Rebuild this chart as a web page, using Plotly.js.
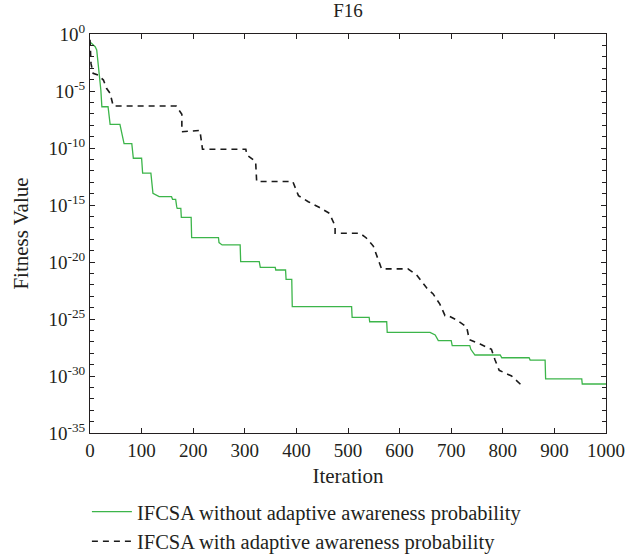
<!DOCTYPE html>
<html>
<head>
<meta charset="utf-8">
<script src="https://cdn.plot.ly/plotly-3.0.1.min.js"></script>
<style>html,body{margin:0;padding:0;background:#fff;}#chart{width:626px;height:557px;}</style>
</head>
<body>
<div id="chart"></div>
<script>
// Iterations and log10 fitness values
const greenIter = [0, 10, 13, 16, 19, 21, 23, 35, 39, 58, 61, 66, 81, 84, 100, 102, 118, 122, 134, 158, 160, 166, 168, 169, 176, 177, 196, 197, 249, 250, 256, 291, 292, 328, 330, 359, 360, 379, 380, 391, 392, 507, 508, 541, 542, 575, 576, 659, 669, 675, 700, 701, 702, 736, 738, 746, 795, 798, 851, 853, 882, 883, 953, 954, 1000];
const greenLog  = [-0.7, -1.11, -1.40, -2.57, -3.75, -4.91, -6.38, -6.38, -7.92, -7.92, -8.57, -9.62, -9.62, -10.9, -10.9, -12.2, -12.2, -13.97, -14.27, -14.27, -14.5, -14.5, -15.15, -15.3, -15.3, -16.08, -16.08, -17.87, -17.87, -18.3, -18.5, -18.5, -19.97, -19.97, -20.47, -20.47, -20.7, -20.7, -21.52, -21.52, -23.92, -23.92, -24.85, -24.85, -25.24, -25.24, -26.18, -26.18, -26.4, -26.9, -26.9, -27.2, -27.34, -27.34, -27.66, -28.16, -28.16, -28.4, -28.4, -28.6, -28.6, -30.26, -30.26, -30.7, -30.7];

const blackIter = [0, 2, 6, 16, 26, 32, 39, 42, 45, 167, 178, 178, 213, 218, 302, 304, 321, 323, 393, 404, 423, 444, 464, 475, 475, 523, 535, 549, 565, 616, 633, 653, 665, 678, 688, 694, 711, 730, 735, 756, 778, 785, 793, 817, 836];
const blackLog  = [-0.5, -2.6, -3.45, -3.6, -4.04, -4.76, -5.2, -5.79, -6.32, -6.32, -7.04, -8.57, -8.46, -10.11, -10.11, -10.6, -11.2, -12.94, -12.94, -14.18, -14.71, -15.2, -15.73, -16.84, -17.48, -17.48, -17.87, -18.6, -20.6, -20.6, -21.14, -22.3, -22.8, -23.7, -24.7, -24.7, -25.1, -25.7, -26.8, -27.2, -27.66, -28.6, -29.5, -30.0, -30.8];

const seriesNames = ['IFCSA without adaptive awareness probability', 'IFCSA with adaptive awareness probability'];
const xTicks = [0, 100, 200, 300, 400, 500, 600, 700, 800, 900, 1000];
const yMajorExp = [0, -5, -10, -15, -20, -25, -30, -35];
const yMinorExp = [];
for (let e = 0; e >= -35; e--) yMinorExp.push(e);

const toVal = a => a.map(v => Math.pow(10, v));
const yTickVals = toVal(yMajorExp);
const yTickText = yMajorExp.map(e => '10<sup>' + e + '</sup>');

const font = 'Liberation Serif, Times New Roman, serif';
const ink = '#231f20';

const traces = [
  {x: greenIter, y: toVal(greenLog), type: 'scatter', mode: 'lines', name: seriesNames[0],
   legendgroup: 'a', line: {color: '#3cb54a', width: 1.3}},
  {x: blackIter, y: toVal(blackLog), type: 'scatter', mode: 'lines', name: seriesNames[1],
   legendgroup: 'b', line: {color: '#1a1a1a', width: 1.6, dash: '6px,5px'}}
];

const layout = {
  width: 626, height: 557,
  margin: {l: 90, r: 20, t: 34, b: 124},
  paper_bgcolor: '#fff', plot_bgcolor: '#fff',
  font: {family: font, size: 19, color: ink},
  title: {text: 'F16', font: {family: font, size: 19, color: ink}, xref: 'paper', x: 0.5, xanchor: 'center',
          yref: 'container', y: 0.982, yanchor: 'middle'},
  xaxis: {range: [0, 1000], tickvals: xTicks, ticktext: xTicks.map(String), ticks: 'inside', ticklen: 5,
          showline: true, mirror: 'ticks', linecolor: ink, linewidth: 1, tickcolor: ink,
          showgrid: false, zeroline: false, automargin: false,
          title: {text: 'Iteration', font: {family: font, size: 21}, standoff: 8},
          tickfont: {family: font, size: 19}},
  yaxis: {type: 'log', range: [-35, 0], tickvals: yTickVals, ticktext: yTickText, ticks: 'inside', ticklen: 5,
          minor: {tickvals: toVal(yMinorExp), ticks: 'inside', ticklen: 4, tickcolor: ink},
          showline: true, mirror: 'ticks', linecolor: ink, linewidth: 1, tickcolor: ink,
          showgrid: false, zeroline: false, automargin: false,
          title: {text: 'Fitness Value', font: {family: font, size: 21}, standoff: 14},
          tickfont: {family: font, size: 19}},
  showlegend: true,
  legend: {x: -0.006, xanchor: 'left', xref: 'paper', yref: 'container', y: 0.117, yanchor: 'top',
           bgcolor: 'rgba(0,0,0,0)', traceorder: 'grouped', tracegroupgap: 0,
           font: {family: font, size: 20.5, color: ink}, itemwidth: 40}
};

Plotly.newPlot('chart', traces, layout, {displayModeBar: false, staticPlot: true});
</script>
</body>
</html>
